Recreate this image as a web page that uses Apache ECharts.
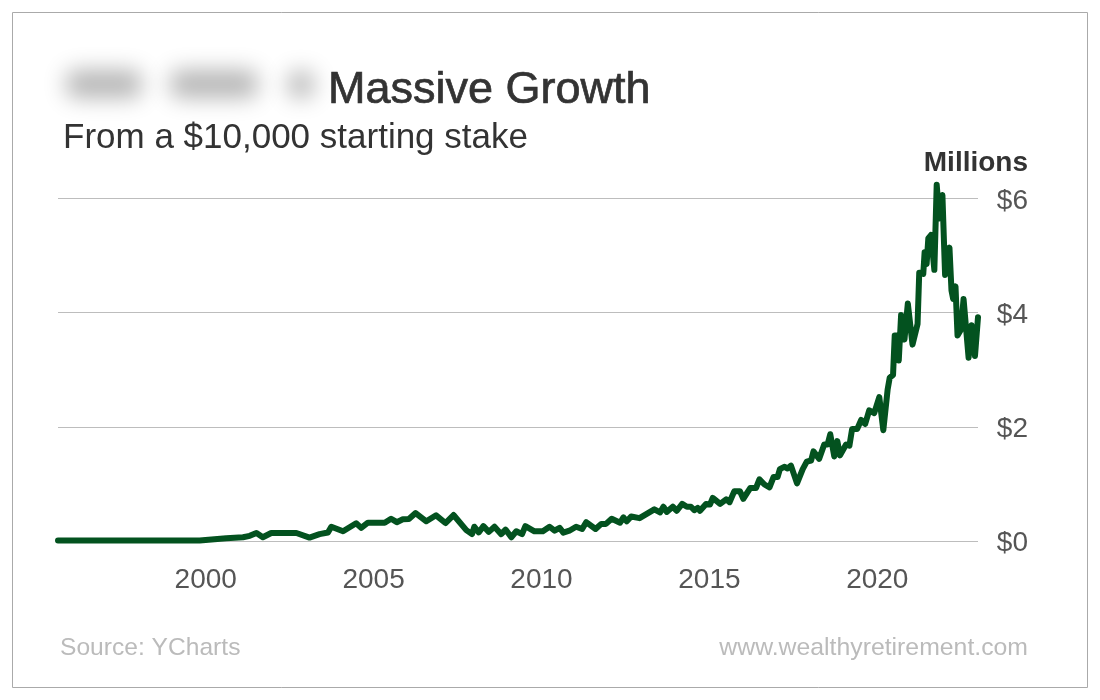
<!DOCTYPE html>
<html>
<head>
<meta charset="utf-8">
<title>Massive Growth</title>
<script src="https://cdn.jsdelivr.net/npm/echarts@6/dist/echarts.min.js"></script>
<style>
html, body { margin: 0; padding: 0; background: #fff; }
#chart_growth { width: 1100px; height: 700px; }
</style>
</head>
<body>
<div id="chart_growth"></div>
<script>
// decimal year of each reading
var years = [1995.6, 1997, 1999, 1999.82, 2000.61, 2001.11, 2001.31, 2001.51, 2001.7, 2001.95,
	2002.7, 2003.09, 2003.39, 2003.64, 2003.74, 2004.09, 2004.48, 2004.63, 2004.83, 2005.33,
	2005.52, 2005.69, 2005.87, 2006.05, 2006.25, 2006.57, 2006.86, 2007.14, 2007.38, 2007.76,
	2007.93, 2008.0, 2008.13, 2008.27, 2008.43, 2008.6, 2008.8, 2008.93, 2009.1, 2009.25,
	2009.42, 2009.52, 2009.79, 2010.04, 2010.24, 2010.39, 2010.54, 2010.65, 2010.83, 2011.03,
	2011.21, 2011.33, 2011.61, 2011.78, 2011.92, 2012.09, 2012.34, 2012.44, 2012.54, 2012.67,
	2012.92, 2013.36, 2013.53, 2013.63, 2013.73, 2013.91, 2014.03, 2014.19, 2014.33, 2014.45,
	2014.55, 2014.65, 2014.72, 2014.9, 2015.02, 2015.1, 2015.32, 2015.5, 2015.6, 2015.74,
	2015.91, 2016.01, 2016.22, 2016.39, 2016.49, 2016.64, 2016.79, 2016.91, 2017.03, 2017.1,
	2017.23, 2017.33, 2017.43, 2017.61, 2017.78, 2017.9, 2018.03, 2018.1, 2018.27, 2018.42,
	2018.52, 2018.6, 2018.72, 2018.81, 2018.89, 2019.07, 2019.17, 2019.25, 2019.4, 2019.52,
	2019.64, 2019.76, 2019.91, 2020.06, 2020.18, 2020.31, 2020.37, 2020.47, 2020.52, 2020.58,
	2020.64, 2020.71, 2020.81, 2020.91, 2021.05, 2021.2, 2021.25, 2021.37, 2021.41, 2021.47,
	2021.52, 2021.6, 2021.7, 2021.77, 2021.85, 2021.94, 2022.02, 2022.15, 2022.21, 2022.26,
	2022.33, 2022.39, 2022.49, 2022.57, 2022.72, 2022.81, 2022.91, 2023.0];
// stake value in $ millions
var values = [0.01, 0.01, 0.01, 0.01, 0.05, 0.065, 0.09, 0.14, 0.065, 0.14,
	0.14, 0.06, 0.12, 0.15, 0.25, 0.17, 0.31, 0.23, 0.32, 0.32,
	0.39, 0.33, 0.38, 0.385, 0.49, 0.345, 0.45, 0.315, 0.455, 0.19,
	0.12, 0.25, 0.15, 0.26, 0.16, 0.25, 0.12, 0.2, 0.065, 0.17,
	0.12, 0.26, 0.17, 0.17, 0.25, 0.18, 0.23, 0.146, 0.18, 0.25,
	0.21, 0.33, 0.21, 0.30, 0.30, 0.39, 0.32, 0.415, 0.345, 0.43,
	0.40, 0.555, 0.50, 0.60, 0.51, 0.60, 0.53, 0.65, 0.60, 0.60,
	0.54, 0.58, 0.53, 0.65, 0.64, 0.755, 0.65, 0.73, 0.68, 0.87,
	0.87, 0.74, 0.93, 0.93, 1.08, 0.99, 0.94, 1.12, 1.12, 1.26,
	1.30, 1.27, 1.32, 1.01, 1.26, 1.39, 1.41, 1.57, 1.44, 1.69,
	1.69, 1.87, 1.48, 1.75, 1.5, 1.69, 1.67, 1.96, 1.96, 2.12,
	2.05, 2.29, 2.24, 2.52, 1.94, 2.66, 2.86, 2.91, 3.60, 3.60,
	3.16, 3.96, 3.53, 4.16, 3.44, 3.8, 4.7, 4.68, 5.06, 4.85,
	5.3, 5.36, 4.75, 6.24, 5.65, 6.06, 4.66, 5.14, 4.39, 4.24,
	4.46, 3.6, 3.7, 4.24, 3.21, 3.78, 3.24, 3.92];
var xTicks = [2000, 2005, 2010, 2015, 2020];
var yTicks = [0, 2, 4, 6];

var FONT = '"Liberation Sans", Arial, sans-serif';

// blurred-out word in the headline: only the soft shadow of an off-canvas rect shows
function blob(x, y, w, h) {
	return {
		type: 'rect',
		shape: { x: x - 3000, y: y, width: w, height: h, r: 10 },
		style: { fill: '#b6b6b6', shadowColor: '#b6b6b6', shadowBlur: 22, shadowOffsetX: 3000 },
		silent: true
	};
}

var myChart = echarts.init(document.getElementById('chart_growth'), null, { renderer: 'canvas' });
var option = {
	animation: false,
	backgroundColor: '#ffffff',
	textStyle: { fontFamily: FONT },
	grid: { left: 58, top: 198.5, width: 920, height: 342.5 },
	xAxis: {
		type: 'value',
		min: 1995.6,
		max: 2023,
		axisLine: { show: false },
		axisTick: { show: false },
		splitLine: { show: false },
		axisLabel: {
			customValues: xTicks,
			color: '#555555',
			fontSize: 28,
			fontFamily: FONT,
			margin: 25,
			formatter: function (v) { return String(v); }
		}
	},
	yAxis: {
		type: 'value',
		position: 'right',
		min: 0,
		max: 6,
		interval: 2,
		axisLine: { show: false },
		axisTick: { show: false },
		splitLine: { lineStyle: { color: '#bdbdbd', width: 1 } },
		axisLabel: {
			margin: 50,
			align: 'right',
			formatter: function (v) { return yTicks.indexOf(v) >= 0 ? '{tick|$' + v + '}' : ''; },
			rich: {
				tick: { color: '#555555', fontSize: 28, fontFamily: FONT, padding: [5, 0, 0, 0] }
			}
		}
	},
	series: [{
		type: 'line',
		data: years.map(function (y, i) { return [y, values[i]]; }),
		showSymbol: false,
		clip: false,
		lineStyle: { color: '#03521f', width: 6, cap: 'round', join: 'round' }
	}],
	graphic: [
		{
			type: 'rect',
			shape: { x: 12.5, y: 12.5, width: 1075, height: 675 },
			style: { fill: 'none', stroke: '#aaaaaa', lineWidth: 1 },
			silent: true
		},
		blob(66, 70, 76, 28),
		blob(170, 70, 88, 28),
		blob(288, 71, 26, 27),
		{ type: 'text', x: 328, y: 91, silent: true, style: {
			text: 'Massive Growth', fill: '#333333', stroke: '#333333', lineWidth: 0.7,
			font: '45px ' + FONT, textVerticalAlign: 'middle' } },
		{ type: 'text', x: 63, y: 138, silent: true, style: {
			text: 'From a $10,000 starting stake', fill: '#333333', font: '35px ' + FONT, textVerticalAlign: 'middle' } },
		{ type: 'text', x: 1028, y: 163, silent: true, style: {
			text: 'Millions', fill: '#333333', font: 'bold 28px ' + FONT, textAlign: 'right', textVerticalAlign: 'middle' } },
		{ type: 'text', x: 60, y: 648, silent: true, style: {
			text: 'Source: YCharts', fill: '#bbbbbb', font: '24.6px ' + FONT, textVerticalAlign: 'middle' } },
		{ type: 'text', x: 1028, y: 648, silent: true, style: {
			text: 'www.wealthyretirement.com', fill: '#bbbbbb', font: '24.8px ' + FONT, textAlign: 'right', textVerticalAlign: 'middle' } }
	]
};
myChart.setOption(option);
</script>
</body>
</html>
